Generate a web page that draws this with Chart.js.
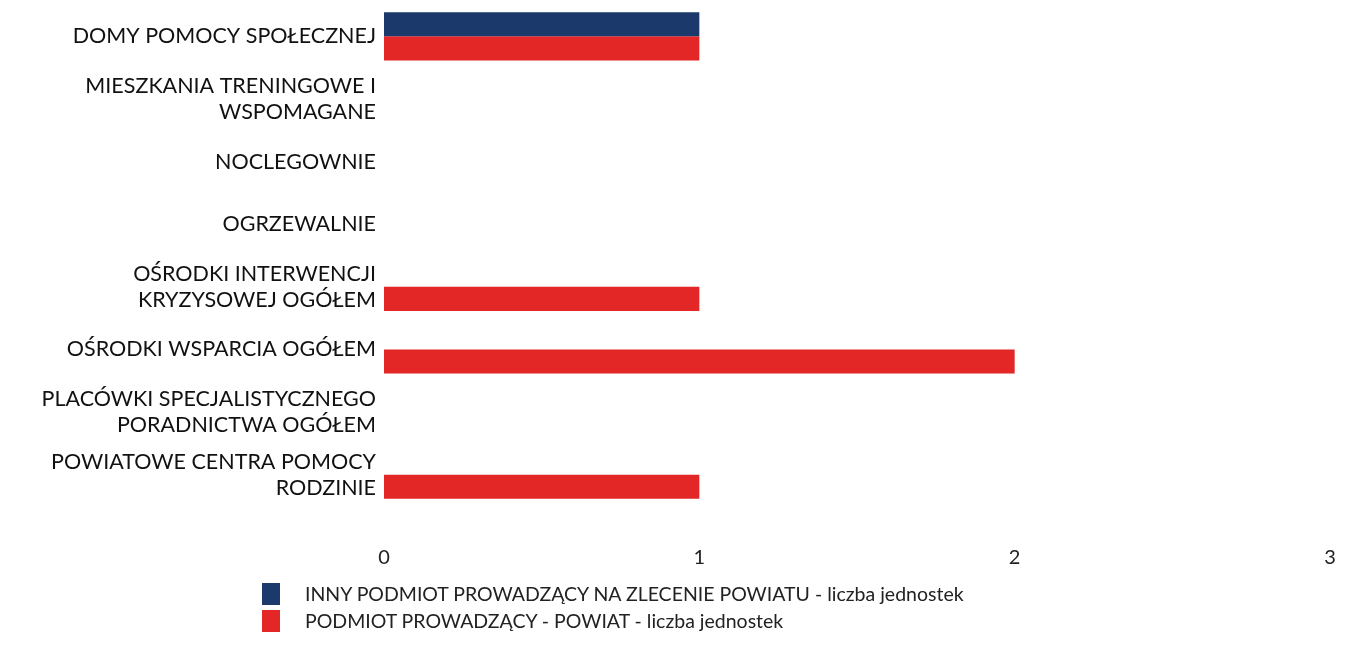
<!DOCTYPE html>
<html>
<head>
<meta charset="utf-8">
<script src="https://cdn.jsdelivr.net/npm/chart.js@4/dist/chart.umd.min.js"></script>
<style>
  html, body { margin:0; padding:0; background:#fff; }
  #wrap { position:relative; width:1350px; height:649px; }
  #legend { position:absolute; left:262px; top:580px; font-family:Lato, sans-serif; font-size:19.5px; color:#222; }
  #legend div { display:flex; align-items:center; height:27px; }
  #legend span.box { width:18px; height:22px; margin-right:25px; display:inline-block; }
</style>
</head>
<body>
<div id="wrap">
  <canvas id="chart" width="1350" height="649"></canvas>
  <div id="legend"></div>
</div>
<script>
// --- dane ---
const categories = [
    ['DOMY POMOCY SPOŁECZNEJ'],
    ['MIESZKANIA TRENINGOWE I', 'WSPOMAGANE'],
    ['NOCLEGOWNIE'],
    ['OGRZEWALNIE'],
    ['OŚRODKI INTERWENCJI', 'KRYZYSOWEJ OGÓŁEM'],
    ['OŚRODKI WSPARCIA OGÓŁEM'],
    ['PLACÓWKI SPECJALISTYCZNEGO', 'PORADNICTWA OGÓŁEM'],
    ['POWIATOWE CENTRA POMOCY', 'RODZINIE']
];
const innyPodmiot = [1, 0, 0, 0, 0, 0, 0, 0];
const powiat = [1, 0, 0, 0, 1, 2, 0, 1];
const xTicks = [0, 1, 2, 3];

const seriesNames = [
    'INNY PODMIOT PROWADZĄCY NA ZLECENIE POWIATU - liczba jednostek',
    'PODMIOT PROWADZĄCY - POWIAT - liczba jednostek'
];
const colors = ['#1b3a6b', '#e32727'];

// legenda (HTML)
document.getElementById('legend').innerHTML = seriesNames.map((n, i) =>
    `<div><span class="box" style="background:${colors[i]}"></span>${n}</div>`
).join('');

new Chart(document.getElementById('chart'), {
    type: 'bar',
    data: {
        labels: categories,
        datasets: [
            { label: seriesNames[0], data: innyPodmiot, backgroundColor: colors[0] },
            { label: seriesNames[1], data: powiat, backgroundColor: colors[1] }
        ]
    },
    options: {
        indexAxis: 'y',
        responsive: false,
        animation: false,
        datasets: { bar: { categoryPercentage: 0.77, barPercentage: 1.0 } },
        layout: { padding: { top: 5, right: 20, bottom: 73, left: 0 } },
        scales: {
            x: {
                min: xTicks[0],
                max: xTicks[xTicks.length - 1],
                grid: { display: false, drawTicks: false },
                border: { display: false },
                afterBuildTicks: (axis) => { axis.ticks = xTicks.map(v => ({ value: v })); },
                afterFit: (axis) => {
                    axis.height = 70;
                    axis.paddingLeft = 0;
                    axis.paddingRight = 0;
                },
                ticks: { padding: 40, color: '#222', font: { family: 'Lato', size: 20 } }
            },
            y: {
                grid: { display: false, drawTicks: false },
                border: { display: false },
                afterFit: (axis) => {
                    axis.width = 384;
                    axis.paddingTop = 0;
                    axis.paddingBottom = 0;
                },
                ticks: { padding: 8, color: '#111', font: { family: 'Lato', size: 21.5, lineHeight: 1.2 } }
            }
        },
        plugins: {
            legend: { display: false },
            tooltip: { enabled: false }
        }
    }
});
</script>
</body>
</html>
